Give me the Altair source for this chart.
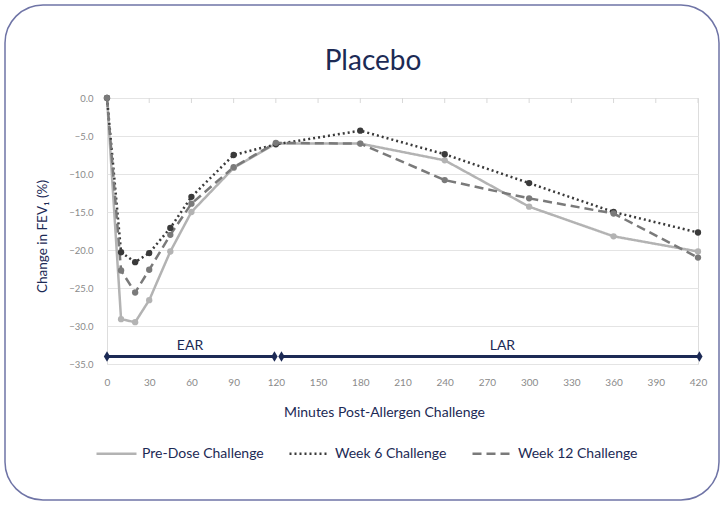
import altair as alt
import pandas as pd

minutes = [0, 10, 20, 30, 45, 60, 90, 120, 180, 240, 300, 360, 420]
pre_dose = [0.0, -29.1, -29.5, -26.6, -20.2, -15.0, -9.2, -6.0, -6.0, -8.2, -14.3, -18.2, -20.2]
week6 = [0.0, -20.3, -21.6, -20.4, -17.1, -13.0, -7.5, -6.1, -4.3, -7.4, -11.2, -15.0, -17.7]
week12 = [0.0, -22.7, -25.6, -22.6, -18.0, -13.9, -9.1, -5.9, -6.0, -10.8, -13.2, -15.2, -21.0]
series_names = ["Pre-Dose Challenge", "Week 6 Challenge", "Week 12 Challenge"]

x_ticks = list(range(0, 421, 30))
y_ticks = [0, -5, -10, -15, -20, -25, -30, -35]

phase_names = ["EAR", "LAR"]
phase_start = [0, 124]
phase_end = [119, 421]
phase_label_x = [59, 281]
phase_y = -34.0
phase_label_y = -32.6

chart_title = "Placebo"

NAVY = "#1c2a55"
rows = []
for name, vals in zip(series_names, [pre_dose, week6, week12]):
    for m, v in zip(minutes, vals):
        rows.append({"Minutes": m, "Change": v, "Series": name})
df = pd.DataFrame(rows)

phases = pd.DataFrame({"phase": phase_names, "start": phase_start, "end": phase_end,
                       "lx": phase_label_x, "y": [phase_y] * 2, "ly": [phase_label_y] * 2})
ends = pd.DataFrame({"x": phase_start + phase_end, "y": [phase_y] * 4})
ticks_df = pd.DataFrame({"t": x_ticks})

xscale = alt.Scale(domain=[0, 420], nice=False, zero=False)
yscale = alt.Scale(domain=[-35, 0], nice=False)

color_scale = alt.Scale(domain=series_names, range=["#b3b3b3", "#3a3a3a", "#7a7a7a"])
dash_scale = alt.Scale(domain=series_names, range=[[1, 0], [2, 3], [9, 5]])

x_axis = alt.Axis(values=x_ticks, title="Minutes Post-Allergen Challenge",
                  grid=False, domain=False, ticks=False, labelPadding=13,
                  labelFlush=False, labelOverlap=False,
                  labelColor="#8a8a8a", labelFontSize=10, labelFont="Lato",
                  titleFont="Lato", titleFontSize=14, titleFontWeight="normal",
                  titleColor=NAVY, titleX=277, titleY=41, titleAnchor="middle")
y_axis = alt.Axis(values=y_ticks, format=".1f", title="Change in FEV₁ (%)",
                  grid=True, gridColor="#e4e4e4", domain=False, ticks=False,
                  labelPadding=14, labelColor="#8a8a8a", labelFontSize=9.5,
                  labelFlush=False, labelOverlap=False,
                  labelFont="Lato", titleFont="Lato", titleFontSize=13.5,
                  titleFontWeight="normal", titleColor=NAVY, titleX=-65,
                  titleY=138, titleAngle=-90, titleBaseline="middle")

border = alt.Chart(pd.DataFrame({"a": [0]})).mark_rect(
    fill=None, stroke="#6f74a6", strokeWidth=1.5, cornerRadius=38
).encode(x=alt.value(-102), x2=alt.value(612), y=alt.value(-93), y2=alt.value(402))

title_mark = alt.Chart(pd.DataFrame({"t": [chart_title]})).mark_text(
    font="Lato", fontSize=28, color=NAVY, baseline="middle", align="center"
).encode(x=alt.value(266), y=alt.value(-36), text="t:N")

topticks = alt.Chart(ticks_df).mark_rule(color="#d8d8d8", strokeWidth=1).encode(
    x=alt.X("t:Q", scale=xscale, axis=x_axis), y=alt.value(0), y2=alt.value(5))

lines = alt.Chart(df).mark_line(strokeWidth=2.5).encode(
    x=alt.X("Minutes:Q", scale=xscale, axis=x_axis),
    y=alt.Y("Change:Q", scale=yscale, axis=y_axis),
    color=alt.Color("Series:N", scale=color_scale, sort=series_names,
                    legend=alt.Legend(title=None, orient="none", legendX=-12, legendY=334,
                                      direction="horizontal", symbolType="stroke",
                                      symbolSize=1600, symbolStrokeWidth=2.5,
                                      labelFont="Lato", labelFontSize=14, labelColor=NAVY,
                                      columnPadding=20, labelOffset=4)),
    strokeDash=alt.StrokeDash("Series:N", scale=dash_scale, sort=series_names, legend=None),
)

points = alt.Chart(df).mark_point(filled=True, size=40, opacity=1).encode(
    x=alt.X("Minutes:Q", scale=xscale, axis=x_axis),
    y=alt.Y("Change:Q", scale=yscale, axis=y_axis),
    color=alt.Color("Series:N", scale=color_scale, legend=None),
)

phase_rules = alt.Chart(phases).mark_rule(color=NAVY, strokeWidth=3).encode(
    x=alt.X("start:Q", scale=xscale, axis=x_axis), x2="end:Q",
    y=alt.Y("y:Q", scale=yscale, axis=y_axis))
phase_ends = alt.Chart(ends).mark_point(
    shape="M0,-1L0.6,0L0,1L-0.6,0Z", filled=True, color=NAVY, size=110, opacity=1
).encode(x=alt.X("x:Q", scale=xscale, axis=x_axis), y=alt.Y("y:Q", scale=yscale, axis=y_axis))
phase_text = alt.Chart(phases).mark_text(
    font="Lato", fontSize=14, color=NAVY, baseline="middle"
).encode(x=alt.X("lx:Q", scale=xscale, axis=x_axis), y=alt.Y("ly:Q", scale=yscale, axis=y_axis),
         text="phase:N")

chart = alt.layer(border, title_mark, topticks, lines, points, phase_rules, phase_ends,
                  phase_text).properties(
    width=591, height=266,
    autosize=alt.AutoSizeParams(type="none"),
    padding={"left": 107, "top": 98, "right": 25, "bottom": 143},
).configure_view(stroke=None).configure(background="white").configure_axis(
    labelOverlap=False, labelFlush=False)

chart.save("out.html", embed_options={"renderer": "svg", "actions": False})
